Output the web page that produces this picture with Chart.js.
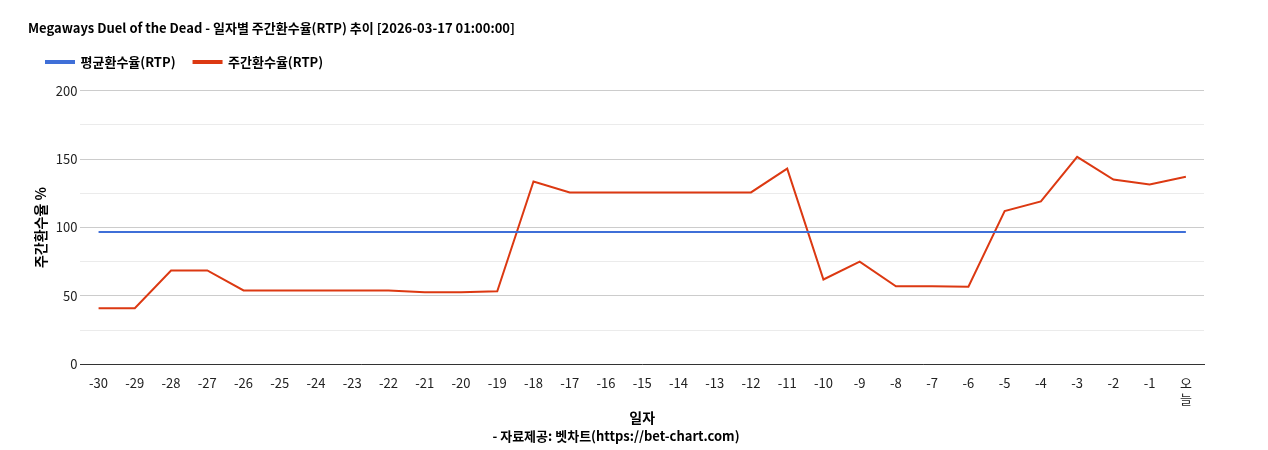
<!DOCTYPE html>
<html><head><meta charset="utf-8">
<script src="https://cdn.jsdelivr.net/npm/chart.js@4"></script>
<style>html,body{margin:0;padding:0;background:#fff}#w{width:1268px;height:450px}</style>
</head><body><div id="w"><canvas id="c"></canvas></div>
<script>
const labels = ['-30','-29','-28','-27','-26','-25','-24','-23','-22','-21','-20','-19','-18','-17','-16','-15','-14','-13','-12','-11','-10','-9','-8','-7','-6','-5','-4','-3','-2','-1',['오','늘']];
const avgRtp = [96.7,96.7,96.7,96.7,96.7,96.7,96.7,96.7,96.7,96.7,96.7,96.7,96.7,96.7,96.7,96.7,96.7,96.7,96.7,96.7,96.7,96.7,96.7,96.7,96.7,96.7,96.7,96.7,96.7,96.7,96.7];
const weeklyRtp = [41,41,68.6,68.6,54,54,54,54,54,52.7,52.7,53.4,133.6,125.6,125.6,125.6,125.6,125.6,125.6,143,62,75,57,57,56.7,112,119,151.6,135,131.4,137];
const font = "'Noto Sans CJK KR','Noto Sans',sans-serif";
Chart.defaults.font.family = font;
Chart.defaults.color = '#222';
const legendPad = {id:'legendPad', beforeInit(chart){ const f=chart.legend.fit; chart.legend.fit=function(){ f.bind(chart.legend)(); this.height+=12; }; }};
new Chart(document.getElementById('c'), {
  type: 'line',
  plugins:[legendPad],
  data: { labels, datasets: [
    {label:'평균환수율(RTP)', data: avgRtp, borderColor:'#3f6fd8', backgroundColor:'#3f6fd8', borderWidth:2, pointRadius:0, tension:0},
    {label:'주간환수율(RTP)', data: weeklyRtp, borderColor:'#dc3912', backgroundColor:'#dc3912', borderWidth:2, pointRadius:0, tension:0}
  ]},
  options: {
    responsive:true, maintainAspectRatio:false, animation:false,
    layout:{padding:{left:28,right:64,top:20,bottom:6}},
    plugins:{
      title:{display:true, text:'Megaways Duel of the Dead - 일자별 주간환수율(RTP) 추이 [2026-03-17 01:00:00]', align:'start', font:{size:13,weight:'bold'}, color:'#000', padding:{top:0,bottom:2}},
      legend:{align:'start', labels:{boxWidth:28, boxHeight:2, font:{size:13,weight:'bold'}, color:'#000', padding:18}},
      subtitle:{display:true, position:'bottom', text:'- 자료제공: 벳차트(https://bet-chart.com)', font:{size:13,weight:'bold'}, color:'#000', padding:{top:0,bottom:0}},
      tooltip:{enabled:false}
    },
    scales:{
      x:{offset:true, grid:{display:false}, border:{color:'#333'}, ticks:{font:{size:13}, color:'#222', maxRotation:0, minRotation:0, autoSkip:false},
         title:{display:true, text:'일자', font:{size:14,weight:'bold'}, color:'#000', padding:{top:0,bottom:2}}},
      y:{min:0,max:200, border:{display:false},
         ticks:{stepSize:25, font:{size:13}, color:'#222', callback:v=> v%50===0 ? v : ''},
         grid:{color:ctx=> ctx.tick && ctx.tick.value%50===0 ? '#cccccc' : '#ebebeb', drawTicks:false},
         title:{display:true, text:'주간환수율 %', font:{size:14,weight:'bold'}, color:'#000'}}
    }
  }
});
</script></body></html>
